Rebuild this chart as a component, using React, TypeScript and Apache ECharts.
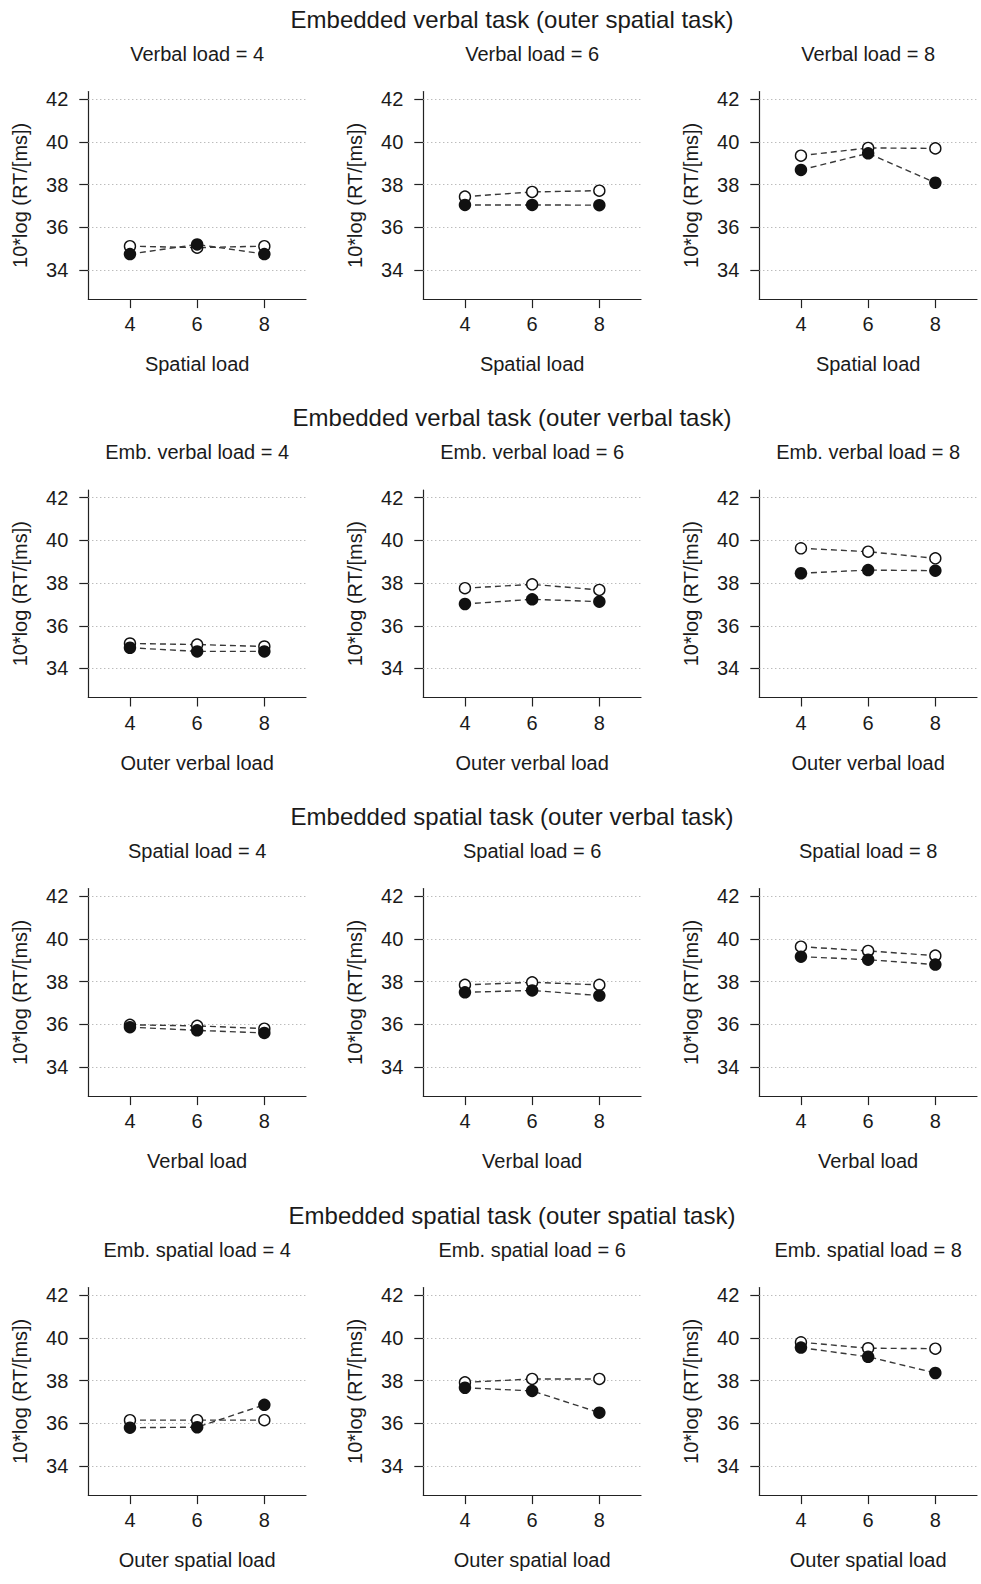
import { useEffect, useRef } from "react";
import * as echarts from "echarts";

// ---------- data ----------
const loads = [4, 6, 8];
const yTicks = [34, 36, 38, 40, 42];
const xTicks = [4, 6, 8];
const yRange = [32.64, 42.36];
const xRange = [2.76, 9.24];

const rowTitles = [
  "Embedded verbal task (outer spatial task)",
  "Embedded verbal task (outer verbal task)",
  "Embedded spatial task (outer verbal task)",
  "Embedded spatial task (outer spatial task)",
];
const panelTitles = [
  ["Verbal load = 4", "Verbal load = 6", "Verbal load = 8"],
  ["Emb. verbal load = 4", "Emb. verbal load = 6", "Emb. verbal load = 8"],
  ["Spatial load = 4", "Spatial load = 6", "Spatial load = 8"],
  ["Emb. spatial load = 4", "Emb. spatial load = 6", "Emb. spatial load = 8"],
];
const xAxisTitles = ["Spatial load", "Outer verbal load", "Verbal load", "Outer spatial load"];
const yAxisTitle = "10*log (RT/[ms])";

// open circles / filled circles, one row of three panels each
const verbalOuterSpatialOpen = [
  [35.12, 35.05, 35.12],
  [37.44, 37.66, 37.72],
  [39.36, 39.72, 39.7],
];
const verbalOuterSpatialFilled = [
  [34.75, 35.2, 34.75],
  [37.05, 37.05, 37.04],
  [38.69, 39.47, 38.09],
];
const verbalOuterVerbalOpen = [
  [35.17, 35.12, 35.03],
  [37.76, 37.94, 37.68],
  [39.63, 39.47, 39.16],
];
const verbalOuterVerbalFilled = [
  [34.97, 34.8, 34.8],
  [37.02, 37.24, 37.13],
  [38.46, 38.61, 38.58],
];
const spatialOuterVerbalOpen = [
  [35.98, 35.93, 35.8],
  [37.85, 37.97, 37.85],
  [39.64, 39.44, 39.22],
];
const spatialOuterVerbalFilled = [
  [35.87, 35.72, 35.6],
  [37.5, 37.59, 37.35],
  [39.17, 39.03, 38.8],
];
const spatialOuterSpatialOpen = [
  [36.15, 36.15, 36.15],
  [37.92, 38.08, 38.08],
  [39.8, 39.52, 39.5],
];
const spatialOuterSpatialFilled = [
  [35.8, 35.82, 36.87],
  [37.67, 37.52, 36.5],
  [39.55, 39.12, 38.36],
];

const openRows = [verbalOuterSpatialOpen, verbalOuterVerbalOpen, spatialOuterVerbalOpen, spatialOuterSpatialOpen];
const filledRows = [verbalOuterSpatialFilled, verbalOuterVerbalFilled, spatialOuterVerbalFilled, spatialOuterSpatialFilled];

// ---------- layout ----------
const W = 981;
const H = 1584;
const colLeft = [88.3, 423.3, 759.3];
const rowTop = [91.6, 490, 888.6, 1287.6];
const plotW = 217.7;
const plotH = 207.5;
const FONT = "'Liberation Sans', Arial, Helvetica, sans-serif";
const TEXT = "#1a1a1a";

function buildOption() {
  const grid: any[] = [];
  const xAxis: any[] = [];
  const yAxis: any[] = [];
  const series: any[] = [];
  const graphic: any[] = [];

  rowTitles.forEach((t, r) => {
    graphic.push({
      type: "text",
      x: 512,
      y: rowTop[r] - 72.5,
      style: { text: t, fontSize: 24, fontFamily: FONT, fill: TEXT, align: "center", verticalAlign: "middle" },
    });
  });

  for (let r = 0; r < 4; r++) {
    for (let c = 0; c < 3; c++) {
      const idx = r * 3 + c;
      grid.push({ left: colLeft[c], top: rowTop[r], width: plotW, height: plotH, containLabel: false });
      graphic.push({
        type: "text",
        x: colLeft[c] + plotW / 2,
        y: rowTop[r] - 38,
        style: { text: panelTitles[r][c], fontSize: 20, fontFamily: FONT, fill: TEXT, align: "center", verticalAlign: "middle" },
      });
      xAxis.push({
        type: "value",
        gridIndex: idx,
        min: xRange[0],
        max: xRange[1],
        name: xAxisTitles[r],
        nameLocation: "middle",
        nameGap: 55,
        nameTextStyle: { fontSize: 20, fontFamily: FONT, color: TEXT },
        axisLine: { show: true, onZero: false, lineStyle: { color: "#222", width: 1.2 } },
        axisTick: { show: true, length: 9, customValues: xTicks, lineStyle: { color: "#222", width: 1.2 } },
        axisLabel: { show: true, margin: 15, customValues: xTicks, fontSize: 20, fontFamily: FONT, color: TEXT },
        splitLine: { show: false },
      });
      yAxis.push({
        type: "value",
        gridIndex: idx,
        min: yRange[0],
        max: yRange[1],
        name: yAxisTitle,
        nameLocation: "middle",
        nameGap: 58,
        nameTextStyle: { fontSize: 20, fontFamily: FONT, color: TEXT },
        axisLine: { show: true, onZero: false, lineStyle: { color: "#222", width: 1.2 } },
        axisTick: { show: true, length: 9, customValues: yTicks, lineStyle: { color: "#222", width: 1.2 } },
        axisLabel: { show: true, margin: 20, customValues: yTicks, fontSize: 20, fontFamily: FONT, color: TEXT },
        splitLine: { show: false },
      });
      const lineStyle = { color: "#383838", width: 1.4, type: [6, 4] };
      series.push({
        type: "line",
        xAxisIndex: idx,
        yAxisIndex: idx,
        z: 2,
        data: loads.map((x, i) => [x, openRows[r][c][i]]),
        symbol: "circle",
        symbolSize: 11,
        showSymbol: true,
        itemStyle: { color: "#ffffff", borderColor: "#111", borderWidth: 1.4 },
        lineStyle,
        markLine: {
          silent: true,
          z: 1,
          symbol: "none",
          label: { show: false },
          lineStyle: { type: [1, 3], color: "#a0a0a0", width: 1 },
          data: yTicks.map((v) => ({ yAxis: v })),
        },
      });
      series.push({
        type: "line",
        xAxisIndex: idx,
        yAxisIndex: idx,
        z: 3,
        data: loads.map((x, i) => [x, filledRows[r][c][i]]),
        symbol: "circle",
        symbolSize: 12.5,
        showSymbol: true,
        itemStyle: { color: "#111", borderColor: "#111", borderWidth: 0 },
        lineStyle,
      });
    }
  }

  return {
    animation: false,
    backgroundColor: "#ffffff",
    textStyle: { fontFamily: FONT },
    grid,
    xAxis,
    yAxis,
    series,
    graphic,
  };
}

export default function App() {
  const ref = useRef<HTMLDivElement>(null);
  useEffect(() => {
    document.body.style.margin = "0";
    if (!ref.current) return;
    const chart = echarts.init(ref.current, null, { renderer: "svg" });
    chart.setOption(buildOption() as any);
    return () => chart.dispose();
  }, []);
  return <div ref={ref} style={{ width: W, height: H, background: "#fff" }} />;
}
